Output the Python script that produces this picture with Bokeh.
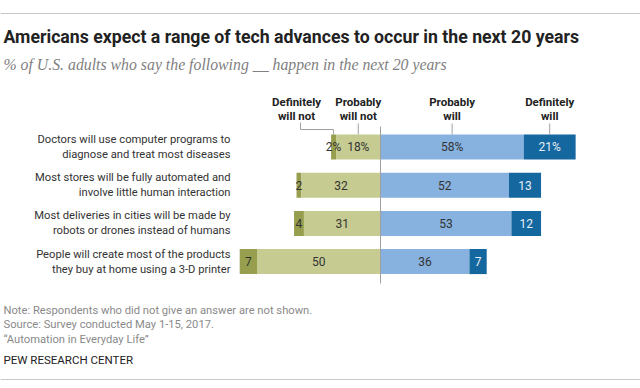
from bokeh.plotting import figure
from bokeh.models import Range1d, Label, ColumnDataSource, Span
from bokeh.core.properties import value
from bokeh.embed import file_html
from bokeh.resources import INLINE

# ---------------- data ----------------
cat_line1 = ["Doctors will use computer programs to",
             "Most stores will be fully automated and",
             "Most deliveries in cities will be made by",
             "People will create most of the products"]
cat_line2 = ["diagnose and treat most diseases",
             "involve little human interaction",
             "robots or drones instead of humans",
             "they buy at home using a 3-D printer"]
def_not = [2, 2, 4, 7]
prob_not = [18, 32, 31, 50]
prob_will = [58, 52, 53, 36]
def_will = [21, 13, 12, 7]
series_names = ["Definitely\nwill not", "Probably\nwill not", "Probably\nwill", "Definitely\nwill"]

title = "Americans expect a range of tech advances to occur in the next 20 years"
subtitle = "% of U.S. adults who say the following __ happen in the next 20 years"
notes = ["Note: Respondents who did not give an answer are not shown.",
         "Source: Survey conducted May 1-15, 2017.",
         "\u201cAutomation in Everyday Life\u201d"]
credit = "PEW RESEARCH CENTER"

# ---------------- layout ----------------
W, H = 640, 388
ZERO_PX = 380.0
PX_PER = 2.47
ROW0 = 146.5
ROW_STEP = 38.2
BAR_H = 25

C_DNOT = "#979f4f"
C_PNOT = "#c6cc91"
C_PWILL = "#87b1de"
C_DWILL = "#15679f"

FONT = "Roboto"

p = figure(width=W, height=H, output_backend="svg", toolbar_location=None,
           x_range=Range1d(-ZERO_PX / PX_PER, (W - ZERO_PX) / PX_PER),
           y_range=Range1d(H, 0), min_border=0)
p.axis.visible = False
p.grid.visible = False
p.outline_line_color = None
p.background_fill_color = "white"
p.border_fill_color = "white"

n = len(def_not)
ys = [ROW0 + i * ROW_STEP for i in range(n)]

# segments
dn_left = [-(a + b) for a, b in zip(def_not, prob_not)]
dn_right = [-b for b in prob_not]
pn_left = [-b for b in prob_not]
pn_right = [0] * n
pw_left = [0] * n
pw_right = list(prob_will)
dw_left = list(prob_will)
dw_right = [a + b for a, b in zip(prob_will, def_will)]

for l, r, c in [(dn_left, dn_right, C_DNOT), (pn_left, pn_right, C_PNOT),
                (pw_left, pw_right, C_PWILL), (dw_left, dw_right, C_DWILL)]:
    src = ColumnDataSource(dict(y=ys, left=l, right=r))
    p.hbar(y="y", left="left", right="right", height=BAR_H, source=src,
           fill_color=c, line_color=None)

# zero line
p.segment(x0=[0], x1=[0], y0=[126], y1=[283], line_color="#a0a0a0", line_width=1)

# value labels
def fmt(vals):
    return [f"{v}%" if i == 0 else f"{v}" for i, v in enumerate(vals)]

for l, r, vals, col in [(dn_left, dn_right, def_not, "#333333"),
                        (pn_left, pn_right, prob_not, "#333333"),
                        (pw_left, pw_right, prob_will, "#333333"),
                        (dw_left, dw_right, def_will, "#e6eef6")]:
    src = ColumnDataSource(dict(x=[(a + b) / 2 for a, b in zip(l, r)], y=ys, t=fmt(vals)))
    p.text(x="x", y="y", text="t", source=src, text_align="center",
           text_baseline="middle", text_font=value(FONT), text_font_size="12px",
           text_color=col)

# category labels
for y, a, b in zip(ys, cat_line1, cat_line2):
    for yy, t in [(y - 7.5, a), (y + 7.5, b)]:
        p.add_layout(Label(x=230, y=yy, x_units="screen", y_units="data", text=t,
                           text_font=FONT, text_font_size="11.2px", text_color="#333333",
                           text_align="right", text_baseline="middle"))

# headers with leader lines
hdr_x = [(-34.0), (pn_left[0] + pn_right[0]) / 2, (pw_left[0] + pw_right[0]) / 2,
         (dw_left[0] + dw_right[0]) / 2]
dn_center = (dn_left[0] + dn_right[0]) / 2
for hx, name in zip(hdr_x, series_names):
    l1, l2 = name.split("\n")
    for yy, t in [(101, l1), (115, l2)]:
        p.add_layout(Label(x=hx, y=yy, x_units="data", y_units="data", text=t,
                           text_font=FONT, text_font_size="11.5px", text_font_style="bold",
                           text_color="#222222", text_align="center", text_baseline="middle"))
top_y = ys[0] - BAR_H / 2
p.multi_line(xs=[[hdr_x[0] + 1.6, hdr_x[0] + 1.6, dn_center, dn_center],
                 [hdr_x[1]] * 2, [hdr_x[2]] * 2, [hdr_x[3]] * 2],
             ys=[[122, 129, 129, top_y], [123, top_y], [123, top_y], [123, top_y]],
             line_color="#a0a0a0", line_width=1)

# title / subtitle
p.add_layout(Label(x=3, y=36, x_units="screen", y_units="data", text=title,
                   text_font=FONT, text_font_size="17.7px", text_font_style="bold",
                   text_color="#222222", text_baseline="middle"))
p.add_layout(Label(x=3, y=64, x_units="screen", y_units="data", text=subtitle,
                   text_font="Liberation Serif", text_font_size="15.8px", text_font_style="italic",
                   text_color="#808080", text_baseline="middle"))

# notes
for yy, t in zip([310, 324, 339], notes):
    p.add_layout(Label(x=3, y=yy, x_units="screen", y_units="data", text=t,
                       text_font=FONT, text_font_size="11.2px", text_color="#8a8a8a",
                       text_baseline="middle"))
p.add_layout(Label(x=3, y=359, x_units="screen", y_units="data", text=credit,
                   text_font=FONT, text_font_size="11.5px", text_color="#222222",
                   text_baseline="middle"))

# rules
p.add_layout(Span(location=13, dimension="width", line_color="#c8c8c8", line_width=1))
p.add_layout(Span(location=379, dimension="width", line_color="#c8c8c8", line_width=1))

open("out.html", "w").write(file_html(p, INLINE))
